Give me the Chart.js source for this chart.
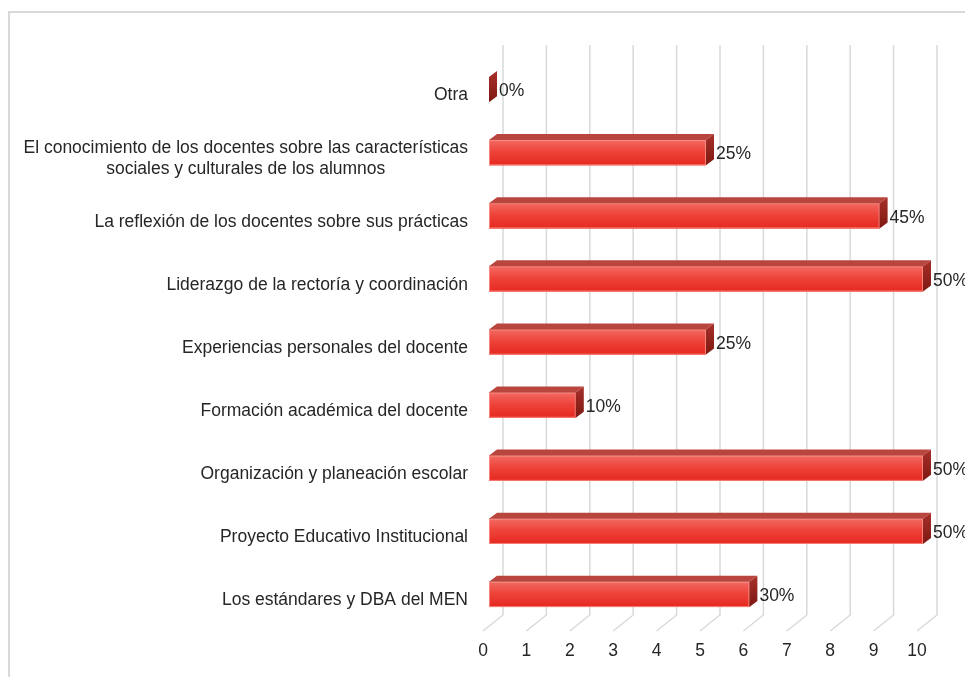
<!DOCTYPE html>
<html>
<head>
<meta charset="utf-8">
<script src="https://cdn.jsdelivr.net/npm/chart.js@4.4.1/dist/chart.umd.min.js"></script>
<style>
  html, body { margin: 0; padding: 0; background: #fff; }
  #wrap { width: 965px; height: 677px; position: relative; }
</style>
</head>
<body>
<div id="wrap"><canvas id="chart"></canvas></div>
<script>
// datos del grafico
var categories = [
  ["Otra"],
  ["El conocimiento de los docentes sobre las características", "sociales y culturales de los alumnos"],
  ["La reflexión de los docentes sobre sus prácticas"],
  ["Liderazgo de la rectoría y coordinación"],
  ["Experiencias personales del docente"],
  ["Formación académica del docente"],
  ["Organización y planeación escolar"],
  ["Proyecto Educativo Institucional"],
  ["Los estándares y DBA del MEN"]
];
var values = [0, 5, 9, 10, 5, 2, 10, 10, 6];
var percentLabels = ["0%", "25%", "45%", "50%", "25%", "10%", "50%", "50%", "30%"];
var xTicks = [0, 1, 2, 3, 4, 5, 6, 7, 8, 9, 10];

var FONT = '"Liberation Sans", Arial, sans-serif';
var FSIZE = 17.5;
var depthX = 8, depthY = 6;   // profundidad de la barra
var wallBack = 14, wallFront = -6;

var plot3d = {
  id: 'plot3d',
  beforeDraw: function (chart) {
    var ctx = chart.ctx;
    ctx.save();
    ctx.strokeStyle = '#d9d9d9';
    ctx.lineWidth = 2;
    ctx.strokeRect(9, 12, 1000, 700);
    ctx.restore();
  },
  beforeDatasetsDraw: function (chart) {
    var ctx = chart.ctx, xs = chart.scales.x, area = chart.chartArea;
    var top = 45, backBottom = area.bottom - 11, frontBottom = area.bottom + 5;
    ctx.save();
    ctx.strokeStyle = '#d9d9d9';
    ctx.lineWidth = 1.5;
    xTicks.forEach(function (t) {
      var px = xs.getPixelForValue(t);
      ctx.beginPath();
      ctx.moveTo(px + wallBack, top);
      ctx.lineTo(px + wallBack, backBottom);
      ctx.lineTo(px + wallFront, frontBottom);
      ctx.stroke();
    });
    ctx.restore();
  },
  afterDatasetsDraw: function (chart) {
    var ctx = chart.ctx;
    var meta = chart.getDatasetMeta(0);
    ctx.save();
    meta.data.forEach(function (bar, i) {
      var x0 = bar.base, x1 = bar.x, h = bar.height;
      var y0 = bar.y - h / 2, y1 = bar.y + h / 2;
      // cara frontal
      if (x1 - x0 > 0.5) {
        var g = ctx.createLinearGradient(0, y0, 0, y1);
        g.addColorStop(0, '#f26a62');
        g.addColorStop(0.45, '#ee443b');
        g.addColorStop(1, '#e5281f');
        ctx.fillStyle = g;
        ctx.fillRect(x0, y0, x1 - x0, h);
        ctx.strokeStyle = 'rgba(250,150,140,0.8)';
        ctx.lineWidth = 1;
        ctx.strokeRect(x0 + 0.5, y0 + 0.5, x1 - x0 - 1, h - 1);
        // cara superior
        ctx.fillStyle = '#b8463f';
        ctx.beginPath();
        ctx.moveTo(x0, y0);
        ctx.lineTo(x0 + depthX, y0 - depthY);
        ctx.lineTo(x1 + depthX, y0 - depthY);
        ctx.lineTo(x1, y0);
        ctx.closePath();
        ctx.fill();
      }
      // cara lateral
      var gs = ctx.createLinearGradient(0, y0 - depthY, 0, y1);
      gs.addColorStop(0, '#a8302a');
      gs.addColorStop(1, '#7e1812');
      ctx.fillStyle = gs;
      ctx.beginPath();
      ctx.moveTo(x1, y0);
      ctx.lineTo(x1 + depthX, y0 - depthY);
      ctx.lineTo(x1 + depthX, y1 - depthY);
      ctx.lineTo(x1, y1);
      ctx.closePath();
      ctx.fill();
      // etiqueta de valor
      ctx.fillStyle = '#262626';
      ctx.font = FSIZE + 'px ' + FONT;
      ctx.textAlign = 'left';
      ctx.textBaseline = 'middle';
      ctx.fillText(percentLabels[i], x1 + depthX + 2, bar.y + 2);
    });
    ctx.restore();
  },
  afterDraw: function (chart) {
    var ctx = chart.ctx, ys = chart.scales.y;
    ctx.save();
    ctx.fillStyle = '#262626';
    ctx.font = FSIZE + 'px ' + FONT;
    ctx.textBaseline = 'middle';
    ctx.textAlign = 'center';
    var right = 468, lineH = 21;
    categories.forEach(function (lines, i) {
      var cy = ys.getPixelForValue(i) + 6;
      var w = 0;
      lines.forEach(function (l) { w = Math.max(w, ctx.measureText(l).width); });
      var cx = right - w / 2;
      var startY = cy - (lines.length - 1) * lineH / 2;
      lines.forEach(function (l, k) { ctx.fillText(l, cx, startY + k * lineH); });
    });
    ctx.restore();
  }
};

new Chart(document.getElementById('chart').getContext('2d'), {
  type: 'bar',
  data: {
    labels: categories.map(function (c) { return c.join(' '); }),
    datasets: [{
      data: values,
      backgroundColor: '#ea3a32',
      borderWidth: 0,
      categoryPercentage: 1,
      barPercentage: 0.4
    }]
  },
  options: {
    indexAxis: 'y',
    responsive: true,
    maintainAspectRatio: false,
    animation: false,
    layout: { padding: { left: 489, right: 42, top: 58, bottom: 0 } },
    plugins: { legend: { display: false }, tooltip: { enabled: false } },
    scales: {
      x: {
        min: 0, max: 10,
        grid: { display: false, drawTicks: false },
        border: { display: false },
        ticks: {
          stepSize: 1,
          color: '#262626',
          font: { size: FSIZE, family: FONT },
          padding: 15,
          labelOffset: -6
        }
      },
      y: {
        grid: { display: false, drawTicks: false },
        border: { display: false },
        ticks: { display: false }
      }
    }
  },
  plugins: [plot3d]
});
</script>
</body>
</html>
